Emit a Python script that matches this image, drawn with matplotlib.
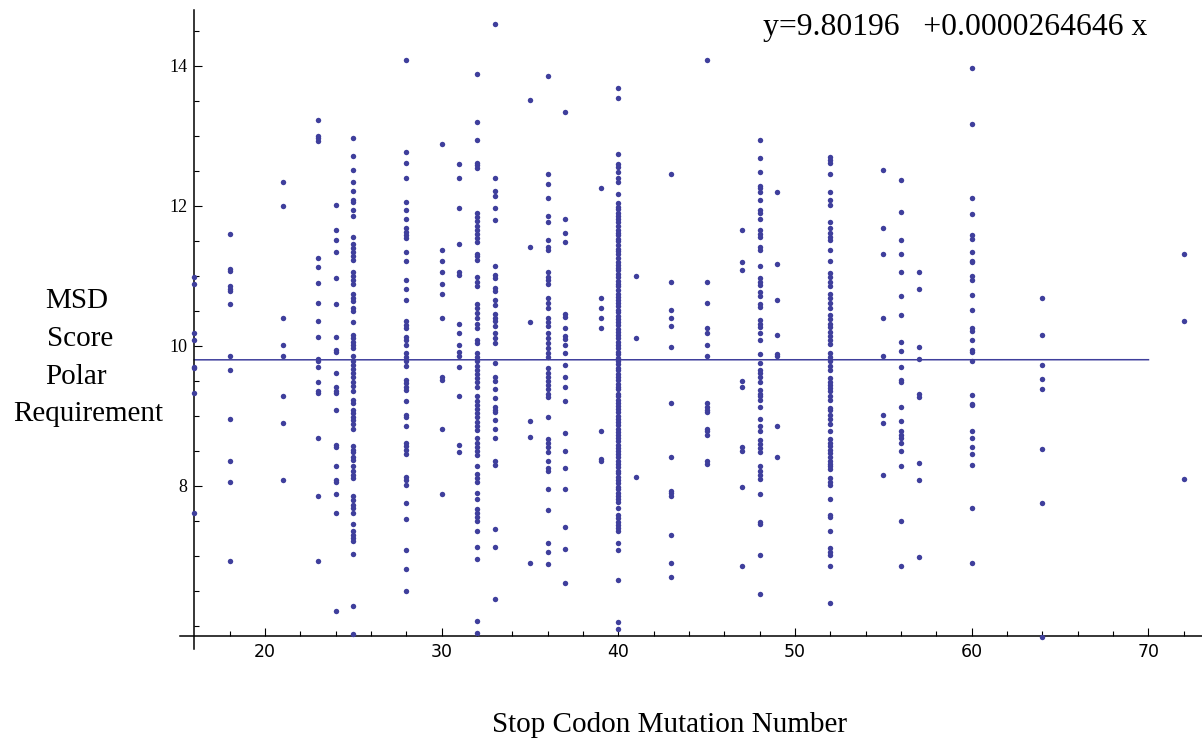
import matplotlib.pyplot as plt
import numpy as np

# MSD score (polar requirement) for each stop codon mutation number
msd_16 = [10.99, 10.89, 10.19, 10.08, 9.70, 9.68, 9.33, 7.62]
msd_18 = [11.60, 11.10, 11.07, 10.86, 10.81, 10.79, 10.60, 9.86, 9.65, 8.96, 8.36, 8.05, 6.93]
msd_21 = [12.34, 12.00, 10.40, 10.02, 9.86, 9.28, 8.90, 8.08]
msd_23 = [13.23, 13.00, 12.97, 12.93, 11.25, 11.13, 10.90, 10.62, 10.36, 10.13, 9.82, 9.78,
          9.70, 9.48, 9.36, 9.33, 8.68, 7.85, 6.93]
msd_24 = [12.02, 11.65, 11.51, 11.34, 10.97, 10.60, 10.13, 9.94, 9.91, 9.62, 9.42, 9.36,
          9.33, 9.08, 8.59, 8.56, 8.28, 8.08, 8.05, 7.88, 7.62, 6.22]
msd_25 = [12.97, 12.71, 12.51, 12.34, 12.22, 12.09, 12.06, 11.94, 11.85, 11.56, 11.45, 11.40,
          11.34, 11.28, 11.23, 11.05, 11.00, 10.94, 10.89, 10.74, 10.69, 10.64, 10.54, 10.50,
          10.34, 10.16, 10.11, 10.06, 10.01, 9.97, 9.85, 9.79, 9.73, 9.67, 9.61, 9.55, 9.49,
          9.43, 9.36, 9.23, 9.19, 9.09, 9.04, 8.99, 8.94, 8.89, 8.82, 8.57, 8.52, 8.48, 8.42,
          8.37, 8.28, 8.22, 8.16, 8.11, 7.86, 7.80, 7.73, 7.68, 7.62, 7.45, 7.35, 7.30, 7.25,
          7.22, 7.03, 6.28, 5.89]
msd_28 = [14.09, 12.77, 12.62, 12.40, 12.05, 11.94, 11.82, 11.68, 11.63, 11.59, 11.54, 11.34,
          11.22, 10.94, 10.82, 10.65, 10.35, 10.30, 10.25, 10.13, 10.09, 10.01, 9.90, 9.84,
          9.78, 9.71, 9.51, 9.47, 9.42, 9.37, 9.22, 9.01, 8.98, 8.85, 8.62, 8.57, 8.51, 8.46,
          8.13, 8.09, 8.01, 7.76, 7.53, 7.08, 6.82, 6.50]
msd_30 = [12.88, 11.37, 11.22, 11.05, 10.88, 10.74, 10.40, 9.55, 9.52, 8.82, 7.88]
msd_31 = [12.60, 12.40, 11.97, 11.45, 11.05, 11.02, 10.31, 10.19, 10.01, 9.92, 9.86, 9.70,
          9.28, 8.59, 8.48]
msd_32 = [13.88, 13.20, 12.94, 12.62, 12.58, 12.54, 11.90, 11.84, 11.78, 11.72, 11.66, 11.60,
          11.54, 11.48, 11.32, 11.28, 11.23, 10.98, 10.92, 10.86, 10.60, 10.54, 10.47, 10.40,
          10.32, 10.25, 10.09, 10.04, 9.90, 9.84, 9.78, 9.71, 9.66, 9.60, 9.54, 9.48, 9.42,
          9.28, 9.22, 9.16, 9.10, 9.04, 8.98, 8.92, 8.86, 8.80, 8.68, 8.62, 8.56, 8.50, 8.44,
          8.28, 8.17, 8.11, 8.05, 7.90, 7.82, 7.67, 7.61, 7.55, 7.50, 7.36, 7.13, 6.96, 6.07,
          5.90]
msd_33 = [14.60, 12.40, 12.22, 12.14, 11.97, 11.80, 11.14, 11.02, 10.97, 10.83, 10.78, 10.66,
          10.58, 10.46, 10.40, 10.35, 10.29, 10.18, 10.11, 10.04, 9.76, 9.55, 9.50, 9.39,
          9.25, 9.13, 9.09, 9.05, 8.94, 8.82, 8.68, 8.36, 8.30, 7.39, 7.13, 6.38]
msd_35 = [13.51, 11.42, 10.34, 8.93, 8.70, 6.90]
msd_36 = [13.85, 12.45, 12.31, 12.11, 11.85, 11.77, 11.51, 11.42, 11.37, 11.05, 10.99, 10.94,
          10.88, 10.68, 10.62, 10.54, 10.40, 10.34, 10.28, 10.18, 10.11, 10.04, 9.97, 9.90,
          9.84, 9.68, 9.62, 9.56, 9.50, 9.44, 9.38, 9.32, 9.27, 8.99, 8.67, 8.61, 8.55, 8.49,
          8.36, 8.25, 8.22, 7.96, 7.65, 7.19, 7.05, 6.88]
msd_37 = [13.34, 11.82, 11.62, 11.48, 10.45, 10.42, 10.25, 10.14, 10.10, 10.01, 9.90, 9.73,
          9.56, 9.42, 9.22, 8.76, 8.50, 8.25, 7.96, 7.42, 7.10, 6.62]
msd_39 = [12.25, 10.68, 10.54, 10.40, 10.25, 8.79, 8.39, 8.35]
msd_40 = [13.68, 13.54, 12.74, 12.60, 12.56, 12.48, 12.40, 12.34, 12.17, 12.04, 11.99, 11.96,
          11.90, 11.86, 11.81, 11.77, 11.72, 11.66, 11.62, 11.58, 11.53, 11.50, 11.44, 11.39,
          11.35, 11.31, 11.26, 11.20, 11.16, 11.12, 11.08, 11.03, 10.98, 10.93, 10.89, 10.85,
          10.80, 10.74, 10.70, 10.66, 10.61, 10.57, 10.52, 10.48, 10.43, 10.38, 10.34, 10.30,
          10.24, 10.20, 10.15, 10.11, 10.06, 10.02, 9.97, 9.92, 9.88, 9.83, 9.79, 9.74, 9.69,
          9.65, 9.60, 9.56, 9.51, 9.46, 9.42, 9.38, 9.32, 9.28, 9.23, 9.19, 9.14, 9.10, 9.05,
          9.00, 8.96, 8.91, 8.87, 8.82, 8.77, 8.73, 8.68, 8.64, 8.59, 8.54, 8.50, 8.45, 8.41,
          8.36, 8.31, 8.27, 8.22, 8.18, 8.13, 8.08, 8.04, 7.99, 7.95, 7.90, 7.86, 7.81, 7.77,
          7.68, 7.59, 7.54, 7.49, 7.44, 7.40, 7.35, 7.19, 7.08, 6.65, 6.05, 5.95]
msd_41 = [11.00, 10.11, 8.13]
msd_43 = [12.45, 10.91, 10.51, 10.40, 10.28, 9.99, 9.19, 8.42, 7.93, 7.90, 7.85, 7.30, 6.90, 6.70]
msd_45 = [14.09, 10.91, 10.62, 10.25, 10.19, 10.02, 9.85, 9.18, 9.13, 9.09, 9.05, 8.82, 8.78,
          8.73, 8.35, 8.32]
msd_47 = [11.65, 11.20, 11.08, 9.50, 9.42, 8.56, 8.50, 7.99, 6.85]
msd_48 = [12.94, 12.68, 12.48, 12.29, 12.25, 12.20, 12.08, 11.94, 11.90, 11.81, 11.65, 11.60,
          11.55, 11.42, 11.37, 11.14, 10.97, 10.92, 10.87, 10.77, 10.72, 10.60, 10.55, 10.37,
          10.32, 10.27, 10.19, 10.08, 9.88, 9.76, 9.66, 9.61, 9.56, 9.48, 9.37, 9.32, 9.28,
          9.23, 9.13, 8.96, 8.85, 8.79, 8.65, 8.60, 8.54, 8.49, 8.28, 8.22, 8.16, 8.10, 7.88,
          7.48, 7.45, 7.02, 6.45]
msd_49 = [12.20, 11.17, 10.65, 10.16, 9.88, 9.85, 8.85, 8.42]
msd_52 = [12.70, 12.66, 12.61, 12.45, 12.20, 12.09, 12.02, 11.77, 11.68, 11.62, 11.56, 11.51,
          11.37, 11.22, 11.04, 10.98, 10.92, 10.86, 10.74, 10.68, 10.62, 10.54, 10.44, 10.38,
          10.32, 10.27, 10.20, 10.14, 10.08, 10.03, 9.90, 9.84, 9.78, 9.71, 9.66, 9.54, 9.49,
          9.44, 9.40, 9.35, 9.29, 9.23, 9.12, 9.08, 9.01, 8.95, 8.89, 8.78, 8.67, 8.62, 8.57,
          8.51, 8.47, 8.42, 8.35, 8.31, 8.28, 8.24, 8.11, 8.06, 8.01, 7.81, 7.59, 7.55, 7.36,
          7.11, 7.06, 7.01, 6.85, 6.33]
msd_55 = [12.51, 11.68, 11.31, 10.40, 9.86, 9.02, 8.90, 8.16]
msd_56 = [12.37, 11.91, 11.51, 11.31, 11.05, 10.72, 10.44, 10.05, 9.93, 9.70, 9.51, 9.48,
          9.13, 8.93, 8.78, 8.73, 8.68, 8.62, 8.50, 8.28, 7.50, 6.85]
msd_57 = [11.05, 10.82, 9.99, 9.82, 9.31, 9.27, 8.33, 8.08, 6.99]
msd_60 = [13.97, 13.17, 12.11, 11.88, 11.58, 11.53, 11.34, 11.22, 11.20, 11.00, 10.94, 10.73,
          10.52, 10.25, 10.22, 10.08, 9.94, 9.92, 9.79, 9.30, 9.17, 9.15, 8.79, 8.68, 8.56,
          8.45, 8.30, 7.68, 6.90]
msd_64 = [10.68, 10.16, 9.73, 9.53, 9.39, 8.53, 7.76, 5.84]
msd_72 = [11.31, 10.36, 8.10]

stop_numbers = [16, 18, 21, 23, 24, 25, 28, 30, 31, 32, 33, 35, 36, 37, 39, 40, 41, 43, 45,
                47, 48, 49, 52, 55, 56, 57, 60, 64, 72]
msd_columns = [msd_16, msd_18, msd_21, msd_23, msd_24, msd_25, msd_28, msd_30, msd_31,
               msd_32, msd_33, msd_35, msd_36, msd_37, msd_39, msd_40, msd_41, msd_43,
               msd_45, msd_47, msd_48, msd_49, msd_52, msd_55, msd_56, msd_57, msd_60,
               msd_64, msd_72]

# least squares line shown on the chart
fit_intercept = 9.80196
fit_slope = 0.0000264646
fit_range = [16, 70]

point_color = '#3f3f9c'
W, H = 1202, 745

fig = plt.figure(figsize=(W / 100, H / 100), dpi=100)
ax = fig.add_axes([180 / W, (H - 649) / H, 1022 / W, 639 / H])

for x, values in zip(stop_numbers, msd_columns):
    ax.plot(np.full(len(values), x), values, 'o', ms=3.9, mew=0,
            color=point_color, clip_on=False, zorder=3)

fit_x = np.array(fit_range)
ax.plot(fit_x, fit_intercept + fit_slope * fit_x, color=point_color, lw=1.1, zorder=2)

ax.set_xlim(15.19, 73.03)
ax.set_ylim(5.671, 14.8)

# mathematica style axes crossing at (16, 5.857)
ax.spines['top'].set_visible(False)
ax.spines['right'].set_visible(False)
ax.spines['left'].set_position(('data', 16))
ax.spines['bottom'].set_position(('data', 5.857))
for side in ['left', 'bottom']:
    ax.spines[side].set_linewidth(1.1)

ax.set_xticks(range(20, 71, 10))
ax.set_xticks(np.arange(18, 73, 2), minor=True)
ax.set_yticks([8, 10, 12, 14])
ax.set_yticks(np.arange(6, 14.6, 0.5), minor=True)

ax.tick_params(which='both', direction='in', width=0.8, color='black')
ax.tick_params(which='major', length=6)
ax.tick_params(which='minor', length=3.6)
ax.tick_params(axis='x', labelsize=12.5, pad=5)
ax.tick_params(axis='y', labelsize=13, pad=5)
for lab in ax.get_yticklabels():
    lab.set_family('Liberation Serif')
for lab in ax.get_xticklabels():
    lab.set_family('DejaVu Sans')

fig.text(763 / W, 1 - 35 / H, 'y=9.80196   +0.0000264646 x',
         family='Liberation Serif', fontsize=22.8, va='baseline')

ylabel_lines = ['MSD', 'Score', 'Polar', 'Requirement']
ylabel_pos = [(77, 308), (80, 346), (76, 384), (88, 421)]
for text, (px, py) in zip(ylabel_lines, ylabel_pos):
    fig.text(px / W, 1 - py / H, text, family='Liberation Serif', fontsize=21,
             ha='center', va='baseline')

fig.text(670 / W, 1 - 732 / H, 'Stop Codon Mutation Number',
         family='Liberation Serif', fontsize=21, ha='center', va='baseline')

fig.savefig('out.png', dpi=100)
